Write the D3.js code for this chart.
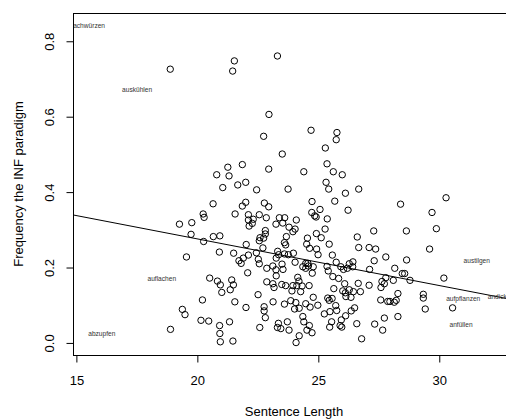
<!DOCTYPE html>
<html>
<head>
<meta charset="utf-8">
<script src="https://cdn.jsdelivr.net/npm/d3@7"></script>
<style>
  body { margin: 0; background: #fff; }
  text { font-family: "Liberation Sans", Arial, sans-serif; }
</style>
</head>
<body>
<svg width="506" height="419"></svg>
<script>
// sentence length per verb
var sentLen = [
  18.88, 21.53, 21.46, 23.31, 22.96,
  22.74, 21.26, 21.86, 20.80, 21.31, 22.95, 21.05, 21.67, 22.00, 22.45,
  20.65, 22.00, 21.86, 22.77, 22.95, 20.24, 20.28, 19.77, 19.26, 21.56,
  22.11, 22.56, 22.85, 22.11, 22.31, 22.27, 22.14, 22.81, 22.81, 19.74,
  20.66, 20.93, 22.59, 22.74, 20.26, 19.55, 20.91, 21.50, 22.02, 22.56,
  22.71, 22.44, 22.11, 21.90, 21.72, 21.81, 22.52, 22.56, 22.87, 22.08,
  20.51, 20.83, 20.95, 21.42, 21.49, 21.36, 21.01, 22.87, 22.51, 20.21,
  21.55, 22.01, 22.76, 22.76, 22.81, 19.38, 19.49, 20.15, 20.47, 21.33,
  20.92, 22.58, 20.93, 18.89, 20.95, 21.47,
  24.70, 25.77, 25.74, 25.29, 23.51, 24.40, 25.36, 25.62, 25.99, 25.32,
  25.43, 23.75, 26.12, 26.67, 24.74, 25.68, 26.23, 25.07, 24.73, 24.85,
  24.91, 25.37, 23.39, 23.61, 23.25, 23.53, 24.09, 23.79, 24.04, 23.95,
  25.28, 24.92, 25.12, 24.55, 23.68, 26.61,
  23.60, 23.65, 24.52, 24.64, 24.93, 24.99, 25.45, 25.58, 26.67, 27.10,
  23.32, 23.36, 23.60, 23.76, 23.97, 23.26, 24.04, 24.48, 24.57, 24.59,
  24.48, 24.79, 24.36, 24.75, 25.36, 25.41, 25.74, 25.93, 26.04, 26.28,
  26.43, 26.20, 26.42, 27.12, 23.12, 23.50, 23.54, 23.25, 23.26, 24.15,
  24.20, 25.60, 25.84, 23.12, 23.49, 23.17, 23.65, 23.95, 24.11, 24.33,
  24.62, 24.27, 23.91, 25.64, 26.09, 26.65, 27.10, 26.01, 26.12, 26.28,
  26.45, 26.74, 26.14, 26.35, 25.57, 25.39, 25.45, 24.79, 23.13, 23.60,
  23.86, 24.07, 24.02, 24.21, 24.48, 24.66, 24.98, 25.25, 25.48, 25.72,
  25.76, 26.36, 26.50, 26.13, 25.95, 25.90, 25.97, 25.55, 25.47, 26.59,
  24.36, 24.40, 24.63, 23.35, 23.72, 23.31, 23.45, 23.79, 24.53, 24.74,
  24.21, 24.08, 26.79,
  28.40, 30.28, 29.70, 27.29, 28.64, 29.88, 27.37, 27.31, 27.79, 28.65,
  29.60, 28.16, 28.47, 28.57, 27.79, 28.10, 28.79, 27.63, 27.73, 27.59,
  30.19, 28.29, 28.22, 27.58, 27.87, 27.96, 28.14, 29.34, 29.34, 29.42,
  30.55, 28.29, 27.73, 27.33, 27.66
];

// frequency of the INF paradigm, same order
var infFreq = [
  0.726, 0.748, 0.721, 0.761, 0.606,
  0.548, 0.466, 0.473, 0.446, 0.443, 0.461, 0.412, 0.419, 0.426, 0.406,
  0.369, 0.373, 0.363, 0.371, 0.361, 0.342, 0.333, 0.319, 0.315, 0.342,
  0.340, 0.340, 0.332, 0.326, 0.328, 0.317, 0.310, 0.298, 0.289, 0.288,
  0.282, 0.284, 0.279, 0.278, 0.269, 0.228, 0.241, 0.238, 0.261, 0.271,
  0.252, 0.239, 0.233, 0.225, 0.218, 0.211, 0.222, 0.210, 0.198, 0.186,
  0.172, 0.164, 0.154, 0.167, 0.154, 0.141, 0.134, 0.162, 0.128, 0.114,
  0.109, 0.094, 0.096, 0.085, 0.067, 0.089, 0.075, 0.060, 0.058, 0.056,
  0.046, 0.041, 0.025, 0.036, 0.003, 0.005,
  0.564, 0.558, 0.539, 0.517, 0.501, 0.454, 0.475, 0.454, 0.446, 0.426,
  0.408, 0.408, 0.397, 0.408, 0.375, 0.376, 0.352, 0.354, 0.346, 0.337,
  0.334, 0.329, 0.332, 0.332, 0.315, 0.318, 0.326, 0.307, 0.302, 0.295,
  0.302, 0.290, 0.279, 0.278, 0.282, 0.281,
  0.266, 0.260, 0.262, 0.251, 0.249, 0.234, 0.262, 0.233, 0.253, 0.253,
  0.243, 0.234, 0.236, 0.234, 0.238, 0.225, 0.214, 0.211, 0.211, 0.204,
  0.198, 0.202, 0.202, 0.185, 0.203, 0.191, 0.214, 0.202, 0.195, 0.210,
  0.215, 0.198, 0.202, 0.195, 0.204, 0.209, 0.195, 0.194, 0.178, 0.174,
  0.164, 0.176, 0.171, 0.157, 0.155, 0.147, 0.152, 0.152, 0.152, 0.151,
  0.152, 0.136, 0.138, 0.144, 0.157, 0.158, 0.153, 0.138, 0.133, 0.141,
  0.136, 0.136, 0.123, 0.121, 0.118, 0.119, 0.113, 0.121, 0.109, 0.103,
  0.112, 0.107, 0.090, 0.092, 0.104, 0.095, 0.100, 0.077, 0.083, 0.099,
  0.086, 0.085, 0.093, 0.072, 0.061, 0.046, 0.042, 0.056, 0.042, 0.051,
  0.070, 0.056, 0.046, 0.052, 0.056, 0.041, 0.038, 0.034, 0.034, 0.027,
  0.019, 0.001, 0.011,
  0.368, 0.385, 0.346, 0.297, 0.297, 0.303, 0.249, 0.218, 0.228, 0.220,
  0.249, 0.198, 0.184, 0.184, 0.173, 0.166, 0.166, 0.163, 0.157, 0.147,
  0.172, 0.131, 0.113, 0.114, 0.110, 0.110, 0.108, 0.129, 0.119, 0.090,
  0.093, 0.070, 0.066, 0.050, 0.034
];

// labelled verbs
var labelWords = ["nachwürzen", "auskühlen", "auflachen", "abzupfen", "austilgen", "aufpflanzen", "anfüllen", "andicken"];
var labelLen = [15.45, 17.51, 18.53, 16.05, 31.55, 30.99, 30.90, 32.55];
var labelFreq = [0.842, 0.672, 0.171, 0.025, 0.218, 0.117, 0.048, 0.122];

// lm(freq ~ length): intercept, slope
var fitCoef = [0.5233, -0.01237];

var xTicks = [15, 20, 25, 30];
var yTicks = [0, 0.2, 0.4, 0.6, 0.8];

var svg = d3.select("svg"),
    padL = 73, padR = 515, padT = 13, padB = 355;

var x = d3.scaleLinear().domain([14.86, 33.13]).range([padL, padR]);
var y = d3.scaleLinear().domain([-0.032, 0.875]).range([padB, padT]);

svg.append("defs").append("clipPath").attr("id", "plotclip")
  .append("rect")
  .attr("x", padL).attr("y", padT)
  .attr("width", padR - padL).attr("height", padB - padT);

var plot = svg.append("g").attr("clip-path", "url(#plotclip)");

var points = d3.range(Math.min(sentLen.length, infFreq.length)).map(function(i) {
  return { len: sentLen[i], freq: infFreq[i] };
});

plot.selectAll("circle")
  .data(points)
  .enter().append("circle")
  .attr("cx", function(d) { return x(d.len); })
  .attr("cy", function(d) { return y(d.freq); })
  .attr("r", 3.2)
  .attr("fill", "none")
  .attr("stroke", "#000")
  .attr("stroke-width", 1);

// regression line across the whole region
var xd = x.domain();
plot.append("line")
  .attr("x1", x(xd[0])).attr("y1", y(fitCoef[0] + fitCoef[1] * xd[0]))
  .attr("x2", x(xd[1])).attr("y2", y(fitCoef[0] + fitCoef[1] * xd[1]))
  .attr("stroke", "#000")
  .attr("stroke-width", 1);

plot.selectAll(".lab")
  .data(labelWords)
  .enter().append("text")
  .attr("class", "lab")
  .attr("x", function(d, i) { return x(labelLen[i]); })
  .attr("y", function(d, i) { return y(labelFreq[i]); })
  .attr("dy", "0.35em")
  .attr("text-anchor", "middle")
  .style("font-size", "6.6px")
  .style("fill", "#333")
  .text(function(d) { return d; });

// box
svg.append("rect")
  .attr("x", padL + 0.5).attr("y", padT + 0.5)
  .attr("width", padR - padL).attr("height", padB - padT)
  .attr("fill", "none")
  .attr("stroke", "#000")
  .attr("stroke-width", 1);

// x axis
var xAxis = svg.append("g")
  .attr("transform", "translate(0," + (padB + 0.5) + ")")
  .call(d3.axisBottom(x).tickValues(xTicks).tickSize(7).tickPadding(13).tickSizeOuter(0));
xAxis.select(".domain").remove();
xAxis.selectAll("text").style("font-size", "13px").attr("fill", "#000")
  .style("font-family", "Liberation Sans, Arial, sans-serif");

// y axis with rotated labels
var yAxis = svg.append("g")
  .attr("transform", "translate(" + (padL + 0.5) + ",0)")
  .call(d3.axisLeft(y).tickValues(yTicks).tickSize(7).tickFormat(d3.format(".1f")));
yAxis.select(".domain").remove();
yAxis.selectAll("text")
  .attr("x", null).attr("dy", null)
  .attr("text-anchor", "middle")
  .attr("transform", "translate(-19.5,0) rotate(-90)")
  .style("font-size", "13px")
  .style("font-family", "Liberation Sans, Arial, sans-serif")
  .attr("fill", "#000");

svg.append("text")
  .attr("x", (padL + padR) / 2)
  .attr("y", 416)
  .attr("text-anchor", "middle")
  .style("font-size", "13px")
  .text("Sentence Length");

svg.append("text")
  .attr("transform", "translate(22.7," + (padT + padB) / 2 + ") rotate(-90)")
  .attr("text-anchor", "middle")
  .style("font-size", "13px")
  .text("Frequency the INF paradigm");
</script>
</body>
</html>
